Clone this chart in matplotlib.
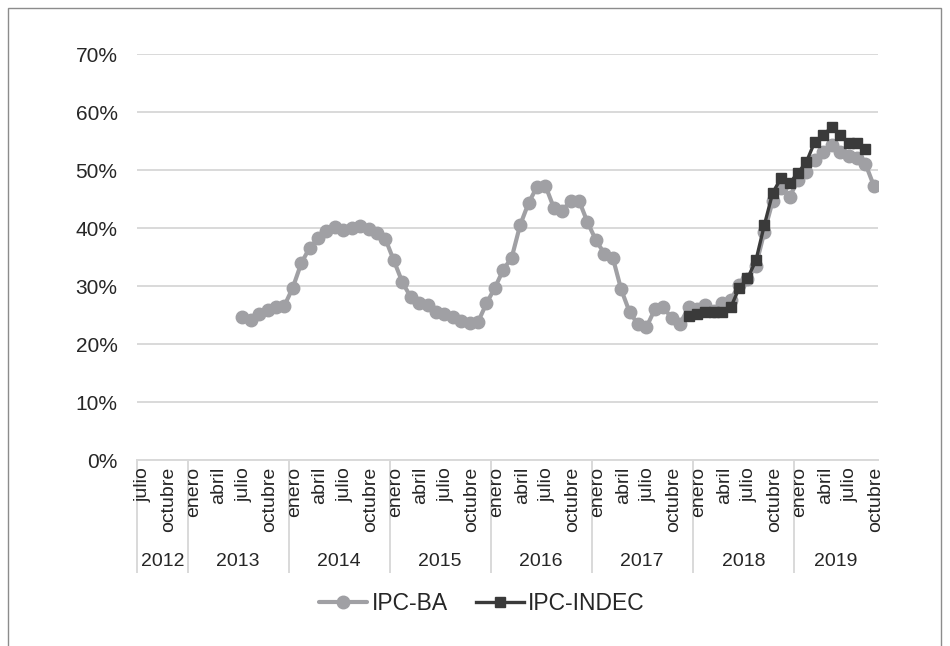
import numpy as np
import matplotlib
matplotlib.use("Agg")
import matplotlib.pyplot as plt
from matplotlib.patches import Rectangle
from matplotlib.transforms import ScaledTranslation, blended_transform_factory

plt.rcParams['font.family'] = ['Liberation Sans', 'DejaVu Sans']

# Monthly categories: July 2012 .. October 2019
years = ["2012", "2013", "2014", "2015", "2016", "2017", "2018", "2019"]
months_per_year = [6, 12, 12, 12, 12, 12, 12, 10]
month_names = ["enero", "febrero", "marzo", "abril", "mayo", "junio",
               "julio", "agosto", "septiembre", "octubre", "noviembre", "diciembre"]
shown_months = ["enero", "abril", "julio", "octubre"]

# IPC-BA, year-on-year (%), July 2013 .. October 2019
ipc_ba = [24.6, 24.1, 25.1, 25.9, 26.3, 26.6,
          29.7, 33.9, 36.6, 38.2, 39.5, 40.2, 39.7, 40.0, 40.3, 39.9, 39.2, 38.1,
          34.4, 30.7, 28.1, 27.1, 26.7, 25.5, 25.2, 24.6, 24.0, 23.7, 23.8, 27.0,
          29.7, 32.8, 34.9, 40.5, 44.3, 47.1, 47.3, 43.5, 43.0, 44.7, 44.7, 41.0,
          37.9, 35.6, 34.9, 29.4, 25.5, 23.4, 22.9, 26.0, 26.3, 24.5, 23.5, 26.3,
          26.1, 26.7, 25.7, 27.0, 27.6, 30.2, 31.2, 33.5, 39.3, 44.7, 46.9, 45.4,
          48.2, 49.7, 51.8, 53.1, 54.3, 53.1, 52.4, 52.1, 51.1, 47.3]
ipc_ba_start = ("2013", "julio")

# IPC-INDEC, year-on-year (%), December 2017 .. September 2019
ipc_indec = [24.8,
             25.1, 25.6, 25.5, 25.6, 26.3, 29.6, 31.3, 34.4, 40.5, 46.1, 48.6, 47.7,
             49.5, 51.4, 54.9, 56.0, 57.4, 56.0, 54.6, 54.6, 53.7]
ipc_indec_start = ("2017", "diciembre")

y_ticks = [0, 10, 20, 30, 40, 50, 60, 70]

# ---- build the category axis ----
labels = []
cat_year = []
for yr, n in zip(years, months_per_year):
    first = 12 - n if yr == years[0] else 0
    for m in range(first, first + n):
        labels.append(month_names[m])
        cat_year.append(yr)
n_cat = len(labels)


def series_on_axis(values, start):
    idx = [i for i in range(n_cat) if cat_year[i] == start[0] and labels[i] == start[1]][0]
    arr = np.full(n_cat, np.nan)
    arr[idx:idx + len(values)] = np.array(values) / 100.0
    return arr


ba = series_on_axis(ipc_ba, ipc_ba_start)
indec = series_on_axis(ipc_indec, ipc_indec_start)
x = np.arange(n_cat)

W, H = 950, 646
fig = plt.figure(figsize=(W / 100, H / 100), dpi=100)
fig.patch.set_facecolor("white")

# outer chart frame
fig.patches.append(Rectangle((8 / W, -0.05), (941 - 8) / W, 1.05 - 8 / H,
                             transform=fig.transFigure, fill=False,
                             edgecolor="#8C8C8C", linewidth=1.0))

left, right, top, bottom = 137, 878, 54, 460
ax = fig.add_axes([left / W, 1 - bottom / H, (right - left) / W, (bottom - top) / H])

grid_c = "#D9D9D9"
ba_c = "#A0A0A4"
indec_c = "#3A3A3A"
text_c = "#262626"

ax.plot(x, ba, color=ba_c, lw=3.0, marker="o", ms=9, label="IPC-BA",
        solid_capstyle="round", zorder=3)
ax.plot(x, indec, color=indec_c, lw=2.4, marker="s", ms=6.8, label="IPC-INDEC",
        zorder=4)

ax.set_xlim(-0.5, n_cat - 0.5)
ax.set_ylim(0, 0.7)
ax.set_yticks([v / 100 for v in y_ticks])
ax.set_yticklabels([f"{v}%" for v in y_ticks], fontsize=15, color=text_c)
ax.yaxis.grid(True, color=grid_c, lw=1.4)
ax.set_axisbelow(True)
ax.tick_params(axis="y", length=0, pad=14)

ax.set_xticks(x)
ax.set_xticklabels([lb if lb in shown_months else "" for lb in labels],
                   rotation=90, fontsize=14, color=text_c)
ax.tick_params(axis="x", length=0, pad=5)
shift = ScaledTranslation(2 / 100, 0, fig.dpi_scale_trans)
for lab in ax.get_xticklabels():
    lab.set_transform(lab.get_transform() + shift)

for s in ["left", "right", "top"]:
    ax.spines[s].set_visible(False)
ax.spines["bottom"].set_color(grid_c)
ax.spines["bottom"].set_linewidth(1.4)

# year separators and year labels below the month labels
trans = blended_transform_factory(ax.transData, ax.transAxes)
sep_bottom = -(572 - bottom) / (bottom - top)
year_y = -(561 - bottom) / (bottom - top)
pos = 0
for yr, n in zip(years, months_per_year):
    ax.plot([pos - 0.5, pos - 0.5], [0, sep_bottom], color=grid_c, lw=1.4,
            transform=trans, clip_on=False, zorder=0)
    ax.text(pos + (n - 1) / 2, year_y, yr, transform=trans, ha="center",
            va="center", fontsize=14, color=text_c)
    pos += n

fig.legend(loc="center", bbox_to_anchor=(482 / W, 1 - 604 / H), ncol=2,
           frameon=False, fontsize=16.5, handlelength=2.1, handletextpad=0.2,
           columnspacing=1.2, labelcolor=text_c)

fig.savefig("out.png", dpi=100)
